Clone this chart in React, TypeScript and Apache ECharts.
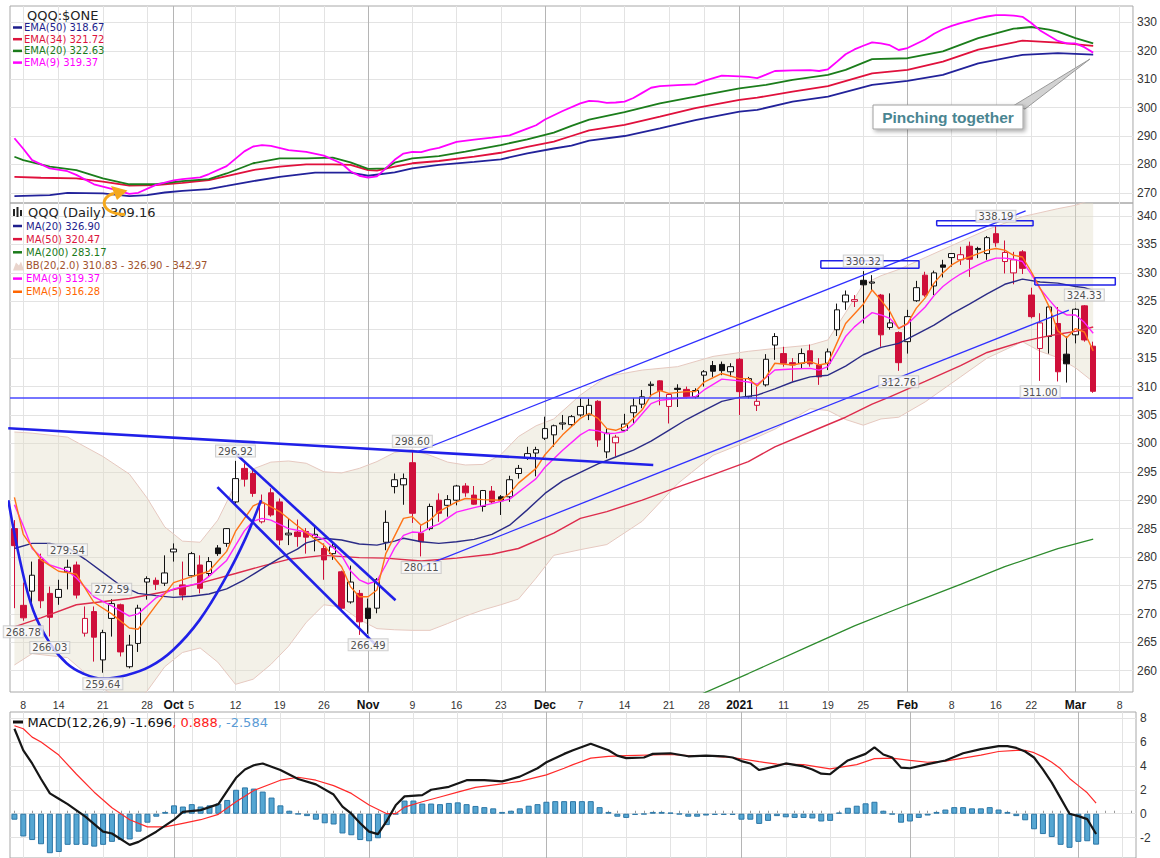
import React, { useEffect, useRef } from "react";
import * as echarts from "echarts";

// ---------------- DATA ----------------
const tradingDays = [
  "09-04","09-08","09-09","09-10","09-11","09-14","09-15","09-16","09-17","09-18","09-21","09-22","09-23","09-24","09-25","09-28","09-29","09-30",
  "10-01","10-02","10-05","10-06","10-07","10-08","10-09","10-12","10-13","10-14","10-15","10-16","10-19","10-20","10-21","10-22","10-23","10-26","10-27","10-28","10-29","10-30",
  "11-02","11-03","11-04","11-05","11-06","11-09","11-10","11-11","11-12","11-13","11-16","11-17","11-18","11-19","11-20","11-23","11-24","11-25","11-27","11-30",
  "12-01","12-02","12-03","12-04","12-07","12-08","12-09","12-10","12-11","12-14","12-15","12-16","12-17","12-18","12-21","12-22","12-23","12-24","12-28","12-29","12-30","12-31",
  "01-04","01-05","01-06","01-07","01-08","01-11","01-12","01-13","01-14","01-15","01-19","01-20","01-21","01-22","01-25","01-26","01-27","01-28","01-29",
  "02-01","02-02","02-03","02-04","02-05","02-08","02-09","02-10","02-11","02-12","02-16","02-17","02-18","02-19","02-22","02-23","02-24","02-25","02-26",
  "03-01","03-02","03-03","03-04","03-05","03-08","03-09"
];

const xTickLabels: Record<string, string> = {
  "09-08": "8", "09-14": "14", "09-21": "21", "09-28": "28", "10-01": "Oct", "10-05": "5", "10-12": "12",
  "10-19": "19", "10-26": "26", "11-02": "Nov", "11-09": "9", "11-16": "16", "11-23": "23", "12-01": "Dec",
  "12-07": "7", "12-14": "14", "12-21": "21", "12-28": "28", "01-04": "2021", "01-11": "11", "01-19": "19",
  "01-25": "25", "02-01": "Feb", "02-08": "8", "02-16": "16", "02-22": "22", "03-01": "Mar", "03-08": "8"
};
const monthStarts = ["10-01", "11-02", "12-01", "01-04", "02-01", "03-01"];
const weekStarts = ["09-08","09-14","09-21","09-28","10-05","10-12","10-19","10-26","11-09","11-16","11-23",
  "12-07","12-14","12-21","12-28","01-11","01-19","01-25","02-08","02-16","02-22","03-08"];

const topTicks = [270, 280, 290, 300, 310, 320, 330];
const mainTicks = [260, 265, 270, 275, 280, 285, 290, 295, 300, 305, 310, 315, 320, 325, 330, 335, 340];
const macdTicks = [-2, 0, 2, 4, 6, 8];

// [open, close, low, high]
const ohlc = [
  [285.0,282.0,271.0,286.5],[271.5,269.3,268.78,275.5],[274.0,276.8,271.6,279.2],[279.6,272.3,271.0,280.6],[273.6,269.4,266.03,274.8],
  [272.9,274.3,271.6,276.0],[277.4,278.2,274.3,279.54],[278.6,273.3,272.7,279.2],[266.6,269.2,266.0,271.3],[270.4,265.9,261.6,271.3],
  [261.9,266.7,259.64,267.2],[269.2,271.8,266.0,272.59],[271.6,263.3,262.5,271.8],[260.7,264.5,260.4,266.3],[264.8,271.0,263.3,271.6],
  [275.6,276.2,272.5,276.6],[275.9,275.2,274.2,276.4],[275.4,277.2,274.9,280.3],[280.9,281.4,279.2,282.4],[275.1,273.3,272.4,279.2],
  [276.7,280.6,276.4,280.9],[278.6,274.5,273.6,280.3],[277.1,279.2,276.5,280.0],[281.6,280.6,280.2,282.1],[282.4,285.0,281.8,285.1],
  [289.7,293.8,289.4,296.92],[295.6,293.7,292.4,296.5],[294.7,291.2,290.6,295.3],[286.2,289.5,285.9,291.0],[291.3,287.4,287.1,292.1],
  [289.7,283.0,282.1,290.3],[283.9,284.2,282.1,286.8],[284.4,283.6,281.8,286.6],[284.5,283.5,280.6,285.1],[283.4,284.0,281.0,285.6],
  [281.5,279.5,276.0,282.4],[280.6,281.8,279.5,282.4],[277.4,271.0,270.7,277.6],[272.1,275.6,271.8,278.5],[273.6,268.6,266.3,274.2],
  [271.0,269.2,266.49,272.7],[271.0,276.0,270.1,276.3],[282.6,286.1,281.2,288.2],[292.4,293.6,291.2,294.7],[292.7,293.8,289.2,294.7],
  [296.6,287.7,286.0,298.6],[284.2,282.7,280.11,285.6],[285.0,288.9,284.7,289.4],[290.0,287.7,286.2,291.2],[289.1,290.1,287.1,290.9],
  [290.0,292.5,289.1,292.7],[292.5,291.3,290.6,293.0],[290.9,289.3,289.2,292.5],[288.9,291.7,288.0,291.8],[291.6,289.7,289.4,292.5],
  [290.6,289.9,287.4,290.9],[290.6,293.6,289.7,294.3],[294.7,295.6,293.8,296.2],[297.4,298.2,297.1,299.4],[298.3,298.9,294.2,299.4],
  [300.9,302.6,300.6,304.7],[301.5,303.1,299.4,303.3],[303.4,303.6,302.4,305.0],[303.3,304.7,302.9,305.0],[305.0,306.5,304.7,308.0],
  [305.0,306.7,304.1,307.9],[307.4,300.6,299.4,307.6],[298.5,301.8,297.4,302.6],[300.1,301.1,297.7,301.5],[302.3,303.4,302.0,305.2],
  [305.4,306.6,303.5,308.0],[306.9,308.2,306.2,309.4],[310.2,310.4,308.2,310.9],[311.0,309.3,306.7,311.1],[306.5,308.6,303.5,308.8],
  [309.7,309.5,306.4,310.4],[309.5,308.2,307.9,310.0],[308.2,309.3,307.9,309.7],[312.0,312.6,310.0,312.9],[313.7,312.7,311.7,314.5],
  [313.9,312.8,312.0,314.4],[312.6,313.5,311.7,314.1],[314.8,309.1,305.0,315.0],[308.2,311.4,307.9,311.7],[306.7,307.4,305.7,310.0],
  [310.3,314.8,310.0,315.7],[317.3,318.8,314.7,319.4],[315.8,314.1,313.5,317.0],[314.2,313.8,310.9,315.0],[314.1,315.8,313.2,316.7],
  [316.3,314.0,313.5,317.4],[313.8,311.7,310.3,315.0],[314.1,316.1,312.9,316.7],[320.0,323.5,318.9,324.6],[324.9,326.1,323.5,326.9],
  [325.0,325.3,324.0,326.1],[328.7,327.9,321.1,330.32],[328.2,328.4,327.0,329.6],[326.1,319.1,317.0,326.3],[320.4,321.2,320.0,326.4],
  [319.5,314.2,312.76,319.7],[317.9,322.3,315.8,323.5],[325.1,327.4,324.9,328.6],[329.6,326.1,325.8,330.2],[327.7,330.0,326.1,330.4],
  [331.4,331.0,329.2,332.3],[332.7,333.4,331.1,333.5],[332.3,333.2,331.4,334.6],[334.7,332.4,329.3,335.5],[334.3,334.1,332.6,334.6],
  [333.4,336.2,332.3,336.5],[336.9,335.3,334.6,338.19],[332.0,333.6,329.9,335.7],[330.0,332.3,328.0,333.7],[333.7,330.8,329.8,334.0],
  [326.1,322.3,322.0,327.4],[316.7,321.2,311.0,322.9],[318.8,324.0,315.8,324.3],[321.1,312.6,310.9,324.0],[315.7,314.0,310.7,318.8],
  [319.1,323.6,317.6,323.8],[324.2,318.2,317.9,324.33],[317.1,309.16,308.9,317.9]
];

// overlays: [day index, value]
const ema5 = [[0,290.5],[1,284.0],[3,279.5],[5,277.5],[7,277.0],[9,272.0],[11,270.0],[13,267.5],[14,267.3],[16,271.5],[18,275.5],[20,276.5],[22,277.5],[24,281.0],[25,284.5],[27,289.0],[28,289.7],[30,288.0],[32,285.5],[33,284.3],[35,282.1],[37,278.3],[38,274.8],[39,273.0],[40,273.0],[41,274.2],[42,280.6],[44,286.8],[45,287.1],[46,285.6],[47,286.5],[48,288.0],[50,289.7],[51,290.3],[53,290.1],[55,290.0],[56,291.2],[57,293.0],[59,295.6],[60,298.0],[62,301.5],[64,304.4],[65,305.3],[66,304.4],[67,302.6],[68,302.3],[69,302.9],[71,305.9],[72,308.5],[73,309.3],[74,308.8],[76,309.1],[77,309.1],[78,310.8],[80,312.3],[82,311.4],[83,311.4],[84,310.1],[85,311.7],[86,314.1],[88,313.8],[90,314.4],[91,313.8],[92,314.1],[93,317.6],[94,321.1],[96,324.5],[97,327.0],[98,325.2],[99,323.2],[100,320.2],[101,321.1],[102,323.8],[103,325.6],[104,328.2],[105,330.0],[106,331.4],[107,332.3],[108,332.8],[109,333.4],[110,334.0],[111,334.3],[112,334.0],[113,333.1],[114,332.8],[115,330.2],[116,327.3],[117,324.1],[118,319.8],[119,318.6],[120,320.2],[121,319.6],[122,316.28]];
const ema9 = [[0,289.2],[1,285.5],[2,281.5],[4,278.6],[6,277.6],[7,276.3],[9,273.0],[11,271.4],[13,269.6],[14,270.0],[16,272.8],[18,274.4],[19,274.8],[21,275.4],[22,276.6],[24,279.4],[26,284.6],[27,286.3],[28,286.8],[29,286.5],[31,285.0],[33,284.4],[35,283.1],[37,280.3],[38,277.6],[39,276.0],[40,275.3],[41,275.8],[42,278.6],[43,281.6],[44,283.8],[45,284.4],[46,284.3],[47,285.2],[48,285.8],[50,287.9],[52,288.7],[54,289.4],[56,290.2],[58,292.6],[59,293.8],[60,295.8],[62,298.8],[64,301.5],[65,302.4],[66,302.2],[67,301.7],[68,301.8],[69,302.1],[70,303.4],[71,305.2],[72,307.0],[73,307.6],[75,307.9],[77,308.2],[78,309.4],[80,311.3],[82,311.0],[83,310.8],[84,310.4],[85,311.6],[86,312.9],[88,313.1],[90,313.2],[91,312.9],[92,313.5],[93,316.1],[94,318.8],[95,320.5],[96,321.8],[97,323.0],[98,322.6],[99,322.0],[100,320.3],[101,321.0],[102,322.5],[103,324.0],[104,326.0],[105,327.6],[106,328.8],[107,329.8],[108,330.6],[109,331.4],[110,332.1],[111,332.6],[112,332.6],[113,332.4],[114,332.0],[115,329.8],[116,327.2],[117,325.3],[118,323.5],[119,322.6],[120,322.6],[121,321.3],[122,319.37]];
const ma20 = [[0,281.5],[2,282.4],[4,282.4],[6,281.7],[8,279.6],[10,277.3],[12,275.0],[14,273.6],[16,273.2],[18,272.9],[20,273.1],[22,273.5],[24,274.4],[26,276.0],[28,277.9],[30,279.8],[32,281.4],[33,282.5],[35,283.3],[37,283.0],[39,282.3],[41,282.1],[43,282.8],[44,283.3],[46,282.7],[48,282.4],[50,282.7],[52,283.1],[54,284.0],[56,285.6],[58,288.3],[60,291.2],[62,293.4],[64,294.9],[66,296.4],[68,297.6],[70,298.8],[72,300.4],[74,302.3],[76,304.2],[78,305.8],[80,307.4],[82,308.1],[84,308.5],[86,309.6],[88,310.8],[90,311.7],[92,312.0],[94,313.6],[96,315.6],[98,316.9],[100,317.6],[102,319.2],[104,320.8],[106,322.8],[108,324.5],[110,326.3],[112,328.0],[114,328.9],[116,328.4],[118,328.2],[120,327.6],[121,327.4],[122,326.9]];
const ma50 = [[0,267.7],[3,269.3],[7,271.6],[13,272.7],[17,273.9],[21,275.4],[25,277.1],[28,278.4],[31,279.6],[35,280.3],[39,279.9],[42,279.8],[46,279.3],[50,279.8],[54,280.5],[57,281.5],[61,284.2],[64,286.8],[67,288.0],[71,290.0],[75,292.3],[79,294.5],[83,296.8],[86,299.4],[90,302.0],[94,304.6],[97,306.9],[99,308.2],[103,310.9],[107,313.7],[110,316.0],[114,317.9],[116,318.6],[118,319.2],[120,319.7],[122,320.47]];
const ma200 = [[66,249.0],[77,255.4],[83,259.5],[90,264.4],[95,267.9],[101,271.6],[107,275.2],[112,278.3],[118,281.5],[122,283.17]];
const bbUpper = [[0,302.0],[2,301.8],[6,301.1],[10,297.7],[13,294.6],[15,290.4],[17,285.3],[19,282.8],[21,282.6],[23,286.5],[25,292.8],[27,295.5],[29,296.7],[31,296.9],[33,296.5],[35,295.0],[37,294.8],[39,295.6],[41,296.8],[43,298.4],[45,298.9],[47,297.9],[49,296.7],[51,296.2],[53,296.3],[55,298.0],[57,301.2],[59,303.1],[61,304.3],[64,308.5],[67,311.8],[71,312.9],[75,313.5],[79,315.3],[83,316.2],[86,316.7],[90,317.3],[92,318.2],[94,323.0],[96,328.0],[98,329.5],[100,330.6],[103,332.7],[107,335.5],[110,337.6],[114,339.9],[116,340.6],[118,341.3],[120,341.9],[122,342.97]];
const bbLower = [[0,261.0],[2,263.0],[6,262.3],[10,256.9],[13,254.0],[15,256.4],[17,260.7],[19,263.2],[21,264.0],[23,261.5],[25,257.6],[27,258.5],[29,261.1],[31,264.3],[33,268.5],[35,271.6],[37,271.2],[39,269.0],[41,267.4],[43,267.2],[45,267.1],[47,267.1],[49,268.3],[51,269.6],[53,270.7],[55,271.6],[57,272.6],[59,276.3],[61,280.3],[64,281.3],[67,282.2],[71,286.3],[75,292.9],[79,297.9],[83,300.4],[86,302.5],[90,306.1],[92,305.8],[94,304.2],[96,303.2],[98,304.3],[100,304.6],[103,307.3],[107,311.7],[110,315.0],[114,317.9],[116,316.2],[118,315.1],[120,313.3],[122,310.83]];

const ema50Top = [[0,268.8],[4,269.2],[6,270.0],[10,269.8],[13,268.8],[15,269.2],[17,270.1],[19,270.7],[22,271.3],[24,272.4],[27,274.1],[30,275.6],[34,277.1],[38,277.1],[40,276.0],[43,277.2],[45,278.6],[48,279.8],[52,280.9],[55,281.8],[58,283.9],[61,285.6],[63,286.6],[65,288.4],[69,290.0],[73,292.7],[77,295.6],[82,298.6],[84,299.2],[88,302.1],[92,303.9],[97,308.0],[101,309.4],[105,311.5],[109,315.6],[114,318.6],[118,319.2],[122,318.67]];
const ema34Top = [[0,275.6],[3,275.3],[7,275.1],[10,273.9],[13,272.5],[16,272.7],[19,273.5],[22,274.5],[24,275.9],[27,278.0],[30,279.2],[33,280.0],[36,280.0],[38,279.8],[40,278.0],[41,277.8],[43,279.2],[45,280.4],[48,281.2],[52,282.7],[55,284.1],[58,286.2],[61,288.0],[63,290.0],[65,292.0],[69,293.9],[73,296.8],[77,299.8],[82,302.7],[84,303.5],[88,305.6],[92,307.6],[97,312.1],[101,313.3],[105,316.2],[109,320.4],[114,323.6],[118,322.9],[122,321.72]];
const ema20Top = [[0,282.7],[1,281.5],[4,279.2],[7,278.0],[10,275.1],[13,273.0],[16,273.0],[19,274.1],[22,274.8],[24,276.8],[27,280.4],[30,282.1],[33,282.1],[36,282.4],[38,280.7],[40,278.4],[42,278.6],[43,280.6],[45,282.1],[48,282.9],[51,284.5],[55,286.8],[58,288.8],[61,291.2],[63,293.6],[65,295.8],[69,298.4],[73,301.5],[77,303.9],[82,306.8],[85,308.0],[88,309.8],[92,311.5],[94,313.3],[97,317.1],[101,317.4],[105,319.8],[109,324.5],[113,327.8],[115,328.4],[117,327.5],[118,326.8],[120,324.5],[122,322.63]];

const macdHist = [
  -0.5,-1.9,-2.2,-2.55,-3.3,-3.2,-2.6,-2.6,-2.6,-2.75,
  -2.6,-2.35,-2.2,-2.15,-1.5,-0.75,-0.25,0.15,0.7,0.6,
  0.8,0.6,0.7,0.85,1.15,2.0,2.2,2.1,1.85,1.35,
  0.7,0.25,-0.03,-0.2,-0.5,-0.8,-0.9,-1.65,-1.8,-2.2,
  -2.3,-2.05,-0.95,-0.05,1.1,1.1,0.85,0.85,0.8,0.9,
  0.95,0.8,0.65,0.55,0.45,0.15,0.25,0.45,0.67,0.8,
  1.0,1.05,1.05,1.05,1.05,1.05,0.55,0.15,-0.25,-0.35,
  -0.1,-0.05,0.15,0.15,0.1,-0.05,-0.25,-0.25,-0.15,-0.1,
  -0.1,-0.1,-0.5,-0.5,-0.85,-0.6,-0.2,-0.3,-0.35,-0.35,
  -0.4,-0.65,-0.6,0.1,0.5,0.67,0.87,1.0,0.25,-0.05,
  -0.75,-0.65,-0.35,-0.15,0.15,0.35,0.55,0.55,0.45,0.45,
  0.55,0.35,0.15,-0.2,-0.55,-1.3,-1.7,-1.95,-2.6,-2.85,
  -2.35,-2.3,-2.584
];
const macdLine = [[0,7.1],[1,5.3],[2,4.2],[3,2.9],[4,1.7],[5,1.25],[6,0.8],[8,-0.25],[10,-1.5],[11,-1.65],[13,-2.6],[14,-2.35],[16,-1.5],[17,-1.0],[18,-0.5],[19,0.15],[21,0.3],[22,0.55],[23,0.8],[24,1.9],[25,3.0],[26,3.7],[27,4.05],[28,4.2],[30,3.65],[32,2.9],[34,2.45],[36,1.6],[37,0.6],[38,0.0],[39,-0.8],[40,-1.5],[41,-1.7],[42,-0.6],[43,0.7],[44,1.45],[46,1.55],[47,2.0],[49,2.25],[51,2.8],[53,2.8],[55,2.7],[57,3.1],[59,3.8],[60,4.3],[62,5.0],[63,5.3],[65,5.85],[67,5.3],[68,4.85],[69,4.65],[71,4.7],[72,5.0],[74,5.05],[76,4.8],[78,4.85],[80,4.8],[81,4.7],[82,4.4],[83,4.2],[84,3.65],[86,4.0],[87,4.2],[89,3.95],[90,3.7],[91,3.35],[92,3.3],[93,3.9],[94,4.45],[96,5.0],[97,5.55],[98,4.95],[99,4.7],[100,3.85],[101,3.8],[103,4.15],[105,4.45],[107,5.05],[109,5.4],[111,5.65],[112,5.65],[113,5.5],[114,5.2],[115,4.7],[116,3.7],[117,2.6],[118,1.3],[119,0.0],[120,-0.2],[121,-0.45],[122,-1.696]];
const macdSignal = [[0,7.35],[1,7.1],[2,6.4],[3,6.0],[5,4.9],[7,3.3],[9,1.8],[11,0.5],[13,-0.5],[15,-1.1],[17,-1.1],[19,-0.8],[21,-0.5],[23,-0.05],[25,1.0],[27,1.95],[30,2.8],[32,3.05],[34,2.8],[36,2.35],[38,1.7],[40,0.73],[42,0.0],[43,0.0],[44,0.55],[46,1.0],[48,1.4],[50,1.8],[52,2.2],[55,2.5],[57,2.7],[60,3.25],[62,3.8],[63,4.1],[65,4.65],[67,4.8],[69,4.85],[74,4.95],[76,4.85],[79,4.8],[81,4.7],[84,4.35],[86,4.15],[89,4.1],[92,3.75],[95,4.1],[97,4.6],[99,4.65],[101,4.45],[103,4.3],[105,4.4],[107,4.65],[109,4.9],[111,5.2],[113,5.3],[114,5.3],[115,5.1],[116,4.75],[117,4.3],[118,3.75],[119,2.95],[120,2.35],[121,1.75],[122,0.888]];

const highMarks = [[6,279.54],[11,272.59],[25,296.92],[45,298.60],[96,330.32],[111,338.19],[121,324.33]];
const lowMarks = [[1,268.78],[4,266.03],[10,259.64],[40,266.49],[46,280.11],[100,312.76],[116,311.00]];

// drawn annotations (day index, price)
const resistanceLine = [[-0.7,302.65],[72.25,296.2]];
const channelUpper = [[45.56,298.53],[114.36,340.9]];
const channelLower = [[46.12,278.3],[119.25,323.46]];
const flagUpper = [[25.1,298.1],[43.1,272.4]];
const flagLower = [[22.96,292.3],[40.9,264.5]];
const cupCurve = [[-0.69,290.0],[0.63,279.4],[2.13,270.6],[4.02,264.8],[5.9,261.3],[7.77,259.5],[10.03,258.6],[12.66,259.2],[15.3,260.7],[17.92,263.6],[20.93,268.9],[23.94,276.5],[26.2,283.5],[27.89,290.0]];
const supportLevel = 308.0;
const boxes = [[91.2,102.3,330.8,332.14],[104.3,115.2,338.29,339.17],[115.4,124.5,327.86,329.14]];

const topLegend = [["EMA(50) 318.67", "#1e1e8c"], ["EMA(34) 321.72", "#dc143c"], ["EMA(20) 322.63", "#1a7a1a"], ["EMA(9) 319.37", "#ff00ff"]];
const mainLegend = [["MA(20) 326.90", "#1e1e8c"], ["MA(50) 320.47", "#dc143c"], ["MA(200) 283.17", "#1a7a1a"], ["BB(20,2.0) 310.83 - 326.90 - 342.97", "#a0522d"], ["EMA(9) 319.37", "#ff00ff"], ["EMA(5) 316.28", "#ff6600"]];

// ---------------- CHART ----------------
const FONT_AXIS = "'Liberation Sans', Arial, sans-serif";
const FONT_LEG = "'DejaVu Sans', Verdana, sans-serif";
const GL = 10, GW = 1126;
const XMIN = -0.5, XMAX = tradingDays.length - 0.5;
const RED = "#cf0f3a";
const BLUE = "#2020e8";

function buildOption() {
  const weekIdx = weekStarts.map((d) => tradingDays.indexOf(d));
  const monthIdx = monthStarts.map((d) => tradingDays.indexOf(d));

  const gridLines = (xi: number, yi: number, ticks: number[]) => ({
    type: "line", xAxisIndex: xi, yAxisIndex: yi, data: [], silent: true, z: 1,
    markLine: {
      silent: true, z: 1, symbol: ["none", "none"], label: { show: false }, animation: false,
      emphasis: { disabled: true },
      lineStyle: { color: "#e3e3e3", width: 1, type: "solid" },
      data: [
        ...ticks.map((v) => ({ yAxis: v })),
        ...weekIdx.map((i) => ({ xAxis: i })),
        ...monthIdx.map((i) => ({ xAxis: i, lineStyle: { color: "#b5b5b5", width: 1, type: "solid" } })),
      ],
    },
  });

  const L = (data: any, color: string, width: number, xi: number, yi: number, z = 4, extra: any = {}) => ({
    type: "line", data, xAxisIndex: xi, yAxisIndex: yi, symbol: "none", showSymbol: false,
    silent: true, z, animation: false, lineStyle: { color, width }, ...extra,
  });

  const candleData = ohlc.map((d, i) => {
    const o = d[0], c = d[1];
    const prev = i > 0 ? ohlc[i - 1][1] : Infinity;
    const stroke = c >= prev ? "#111111" : RED;
    const fill = c > o ? "#ffffff" : stroke;
    return { value: d, itemStyle: { color: fill, color0: fill, borderColor: stroke, borderColor0: stroke, borderWidth: 1 } };
  });

  // Bollinger band table: [index, upper, lower]
  const bbData = bbUpper.map(([i, u], k) => [i, u, bbLower[k][1]]);
  const bbBand = {
    type: "custom", xAxisIndex: 2, yAxisIndex: 1, z: 2, silent: true, clip: true, animation: false,
    data: bbData, encode: { x: 0, y: [1, 2] },
    renderItem: (params: any, api: any) => {
      if (params.dataIndex !== 0) return null;
      const up = bbData.map((d) => api.coord([d[0], d[1]]));
      const lo = bbData.map((d) => api.coord([d[0], d[2]])).reverse();
      return {
        type: "polygon",
        shape: { points: up.concat(lo) },
        style: { fill: "rgba(226,219,198,0.40)", stroke: "none" },
      };
    },
  };

  const boxSeries = boxes.map(([x1, x2, y1, y2]) =>
    L([[x1, y1], [x2, y1], [x2, y2], [x1, y2], [x1, y1]], BLUE, 1.5, 2, 1, 6));

  const markLabel = {
    show: true, fontSize: 10, fontFamily: FONT_LEG, color: "#222",
    backgroundColor: "#fafafa", borderColor: "#c4c4c4", borderWidth: 1, padding: [1, 2, 0, 2],
    formatter: (p: any) => Number(p.value[1]).toFixed(2),
  };

  const valueX = (gridIndex: number) => ({ type: "value", gridIndex, min: XMIN, max: XMAX, show: false });
  const rightY = (gridIndex: number, min: number, max: number, ticks: number[]) => ({
    type: "value", gridIndex, position: "right", min, max,
    splitLine: { show: false }, axisLine: { show: false },
    axisTick: { show: true, customValues: ticks, length: 3, lineStyle: { color: "#888" } },
    axisLabel: { customValues: ticks, fontSize: 12, color: "#333", margin: 4, fontFamily: FONT_AXIS },
  });

  // graphic helpers
  const txt = (x: number, y: number, text: string, fill: string, size = 10, extra: any = {}) => ({
    type: "text", x, y, z: 100, silent: true,
    style: { text, fill, fontSize: size, fontFamily: FONT_LEG, align: "left", verticalAlign: "middle", ...extra },
  });
  const dash = (x: number, y: number, color: string, w = 9, h = 2.5) => ({
    type: "rect", z: 100, silent: true, shape: { x, y: y - h / 2, width: w, height: h }, style: { fill: color },
  });

  const graphics: any[] = [];
  graphics.push(txt(27, 15, "QQQ:$ONE", "#222", 13));
  topLegend.forEach(([label, color], k) => {
    const y = 27.5 + 11.7 * k;
    graphics.push(dash(13, y, color), txt(24, y, label, color, 10));
  });
  graphics.push(
    { type: "rect", z: 100, silent: true, shape: { x: 13, y: 209, width: 2, height: 7 }, style: { fill: "#222" } },
    { type: "rect", z: 100, silent: true, shape: { x: 16.5, y: 207, width: 2, height: 10 }, style: { fill: "#222" } },
    { type: "rect", z: 100, silent: true, shape: { x: 20, y: 210, width: 2, height: 6 }, style: { fill: "#222" } },
  );
  graphics.push(txt(28, 212.7, "QQQ (Daily) 309.16", "#222", 13));
  mainLegend.forEach(([label, color], k) => {
    const y = 226 + 13.15 * k;
    if (k === 3) {
      graphics.push({ type: "polygon", z: 100, silent: true,
        shape: { points: [[13, y + 5], [16, y - 3], [19, y], [21, y - 4], [24, y + 5]] },
        style: { fill: "#e9d4cc" } });
    } else {
      graphics.push(dash(13, y, color));
    }
    graphics.push(txt(26, y, label, color, 10));
  });
  graphics.push(dash(13, 722, "#111", 10, 3));
  graphics.push({
    type: "text", x: 27.5, y: 722, z: 100, silent: true,
    style: {
      text: "{k|MACD(12,26,9) -1.696}{r|, 0.888}{b|, -2.584}",
      fontSize: 13, fontFamily: FONT_LEG, align: "left", verticalAlign: "middle",
      rich: {
        k: { fill: "#111", color: "#111", fontSize: 13, fontFamily: FONT_LEG },
        r: { fill: "#ff2020", color: "#ff2020", fontSize: 13, fontFamily: FONT_LEG },
        b: { fill: "#5b9bd5", color: "#5b9bd5", fontSize: 13, fontFamily: FONT_LEG },
      },
    },
  });
  graphics.push({ type: "polygon", z: 101, silent: true,
    shape: { points: [[1013, 106], [1025, 109], [1090, 59]] },
    style: { fill: "#d2d2d2", stroke: "#999", lineWidth: 1 } });
  graphics.push({ type: "rect", z: 102, silent: true,
    shape: { x: 873, y: 105, width: 150, height: 24 },
    style: { fill: "#ffffff", stroke: "#a0a0a0", lineWidth: 1, shadowBlur: 4, shadowOffsetX: 2, shadowOffsetY: 2, shadowColor: "rgba(0,0,0,0.35)" } });
  graphics.push({ type: "text", x: 948, y: 117.5, z: 103, silent: true,
    style: { text: "Pinching together", fill: "#4a8591", fontSize: 15.5, fontWeight: "bold", fontFamily: FONT_AXIS,
      align: "center", verticalAlign: "middle" } });
  graphics.push({ type: "bezierCurve", z: 104, silent: true,
    shape: { x1: 125, y1: 214.5, cpx1: 100, cpy1: 214, cpx2: 99, cpy2: 197, x2: 114, y2: 193.5 },
    style: { stroke: "#f5a81c", lineWidth: 3, fill: null } });
  graphics.push({ type: "polygon", z: 104, silent: true,
    shape: { points: [[127.5, 190.5], [111, 186], [117, 200]] },
    style: { fill: "#f5a81c" } });

  return {
    animation: false,
    backgroundColor: "#ffffff",
    textStyle: { fontFamily: FONT_AXIS },
    grid: [
      { left: GL, top: 6, width: GW, height: 197, show: true, borderColor: "#a8a8a8", borderWidth: 1, backgroundColor: "transparent" },
      { left: GL, top: 203, width: GW, height: 489, show: true, borderColor: "#a8a8a8", borderWidth: 1, backgroundColor: "transparent" },
      { left: GL, top: 712, width: GW, height: 146, show: true, borderColor: "#a8a8a8", borderWidth: 1, backgroundColor: "transparent" },
    ],
    xAxis: [
      valueX(0),
      {
        type: "category", gridIndex: 1, data: tradingDays, boundaryGap: true,
        axisLine: { show: false }, axisTick: { show: false }, splitLine: { show: false },
        axisLabel: {
          interval: (_i: number, v: string) => xTickLabels[v] !== undefined,
          formatter: (v: string) => (monthStarts.includes(v) ? `{m|${xTickLabels[v]}}` : xTickLabels[v] || ""),
          fontSize: 10.5, color: "#333", margin: 7, fontFamily: FONT_AXIS,
          rich: { m: { fontWeight: "bold", fontSize: 12, color: "#111", fontFamily: FONT_AXIS } },
        },
      },
      valueX(1),
      {
        type: "category", gridIndex: 2, data: tradingDays, boundaryGap: true, position: "top",
        axisLine: { show: false }, splitLine: { show: false }, axisLabel: { show: false },
        axisTick: { show: true, interval: 0, length: 3, alignWithLabel: true, lineStyle: { color: "#9a9a9a" } },
      },
      valueX(2),
    ],
    yAxis: [
      rightY(0, 266.4, 335.8, topTicks),
      rightY(1, 256.25, 342.3, mainTicks),
      rightY(2, -3.7, 8.5, macdTicks),
    ],
    graphic: { elements: graphics },
    series: [
      gridLines(0, 0, topTicks),
      L(ema50Top, "#22229a", 1.8, 0, 0),
      L(ema34Top, "#e0103c", 1.8, 0, 0),
      L(ema20Top, "#1b7d1b", 1.8, 0, 0),
      L(ema9, "#ff00ff", 1.8, 0, 0),

      gridLines(2, 1, mainTicks),
      bbBand,
      L(bbUpper, "#e6c9c0", 1, 2, 1, 2),
      L(bbLower, "#e6c9c0", 1, 2, 1, 2),
      { type: "candlestick", xAxisIndex: 1, yAxisIndex: 1, data: candleData, barWidth: 6, z: 3, silent: true, animation: false },
      L(ma200, "#2e8b2e", 1.3, 2, 1),
      L(ma50, "#dd2c4c", 1.4, 2, 1),
      L(ma20, "#2b2b86", 1.4, 2, 1),
      L(ema9, "#ff22ff", 1.4, 2, 1),
      L(ema5, "#ff7417", 1.4, 2, 1),
      L(resistanceLine, BLUE, 2.6, 2, 1, 6),
      L(channelUpper, "#3030ff", 1.3, 2, 1, 6),
      L(channelLower, "#3030ff", 1.3, 2, 1, 6),
      L(flagUpper, BLUE, 2.6, 2, 1, 6),
      L(flagLower, BLUE, 2.6, 2, 1, 6),
      L(cupCurve, BLUE, 2.6, 2, 1, 6, { smooth: 0.4 }),
      L([[XMIN, supportLevel], [XMAX, supportLevel]], "#4848ff", 1.5, 2, 1, 6),
      ...boxSeries,
      {
        type: "scatter", xAxisIndex: 2, yAxisIndex: 1, data: highMarks, symbolSize: 1, z: 7, silent: true,
        itemStyle: { color: "rgba(0,0,0,0)" }, label: { ...markLabel, position: "top", distance: 4 },
      },
      {
        type: "scatter", xAxisIndex: 2, yAxisIndex: 1, data: lowMarks, symbolSize: 1, z: 7, silent: true,
        itemStyle: { color: "rgba(0,0,0,0)" }, label: { ...markLabel, position: "bottom", distance: 5 },
      },

      gridLines(4, 2, macdTicks),
      {
        type: "bar", xAxisIndex: 3, yAxisIndex: 2, data: macdHist, barWidth: 6, z: 3, silent: true,
        itemStyle: { color: "#55a6d2", borderColor: "#2c76a6", borderWidth: 1 },
      },
      L(macdSignal, "#ff2a2a", 1.2, 4, 2),
      L(macdLine, "#161616", 2.2, 4, 2),
    ],
  };
}

export default function App() {
  const ref = useRef<HTMLDivElement>(null);
  useEffect(() => {
    if (!ref.current) return;
    const chart = echarts.init(ref.current, null, { renderer: "svg" });
    chart.setOption(buildOption() as any);
    return () => chart.dispose();
  }, []);
  return (
    <div
      ref={ref}
      style={{ position: "absolute", left: 0, top: 0, width: 1160, height: 858, background: "#ffffff" }}
    />
  );
}
